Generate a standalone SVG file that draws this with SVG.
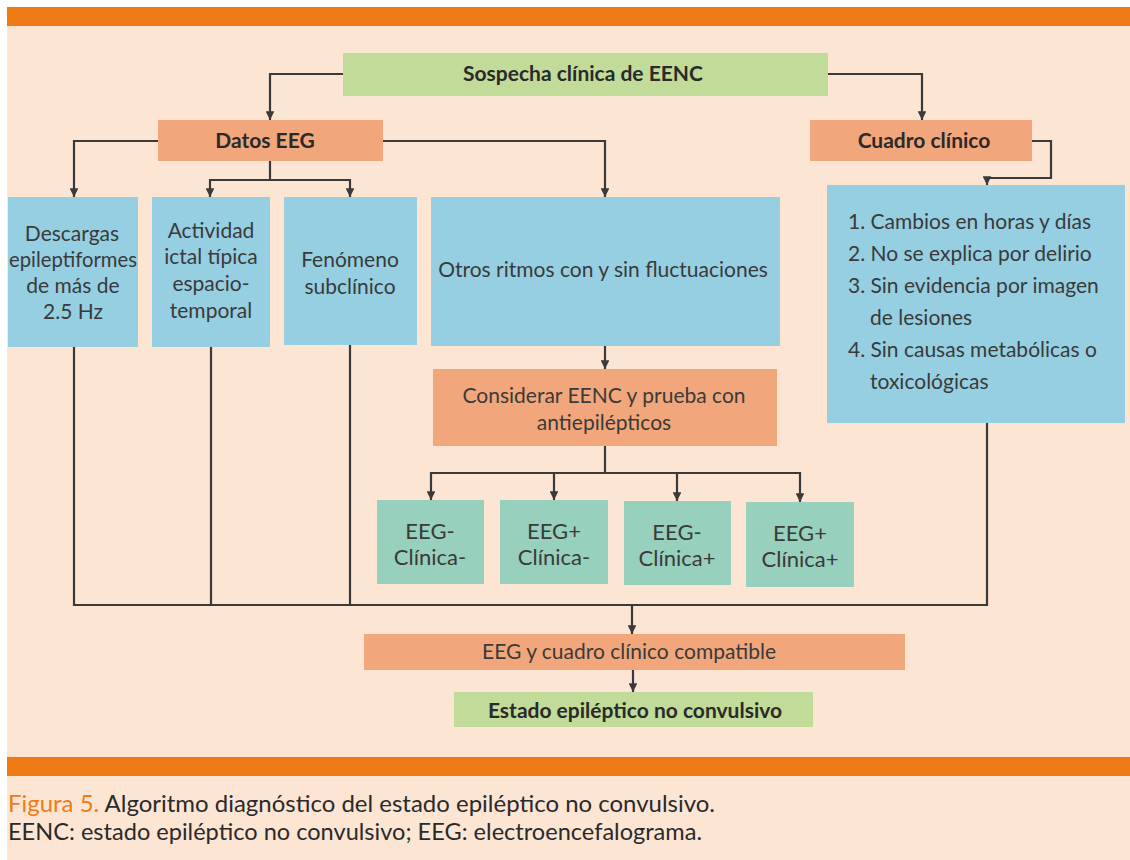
<svg xmlns="http://www.w3.org/2000/svg" width="1130" height="860" viewBox="0 0 1130 860">
<defs>
<style>
.t{font-family:Lato,"Open Sans","Liberation Sans",sans-serif;font-size:21px;fill:#3a3a3a;text-anchor:middle}
.b{font-weight:bold;fill:#2a2a2a}
.l{text-anchor:start}
.k{font-size:22px}
.g{fill:#C1DB98}
.s{fill:#F2A67B}
.u{fill:#96CFE2}
.e{fill:#97D0BC}
.c{fill:none;stroke:#3a3a3a;stroke-width:2.2}
.cap{font-family:Lato,"Open Sans","Liberation Sans",sans-serif;font-size:23px;fill:#2a2a2a}
</style>
<marker id="a" viewBox="0 0 10 10" refX="10" refY="5" markerWidth="4" markerHeight="4" orient="auto-start-reverse" markerUnits="strokeWidth">
<path d="M0,0 L10,5 L0,10 z" fill="#3a3a3a"/>
</marker>
</defs>
<rect x="0" y="0" width="1130" height="860" fill="#ffffff"/>
<rect x="7" y="7" width="1123" height="853" fill="#FDE5D4"/>
<rect x="7" y="7" width="1123" height="19" fill="#EF7B17"/>
<rect x="7" y="757" width="1123" height="19" fill="#EF7B17"/>

<g id="connectors">
<polyline class="c" points="343,74 270,74 270,120" marker-end="url(#a)"/>
<polyline class="c" points="828,74 922,74 922,120" marker-end="url(#a)"/>
<polyline class="c" points="158,141 74,141 74,197" marker-end="url(#a)"/>
<polyline class="c" points="383,141 605,141 605,197" marker-end="url(#a)"/>
<polyline class="c" points="270,161 270,180"/>
<polyline class="c" points="270,180 210,180 210,197" marker-end="url(#a)"/>
<polyline class="c" points="270,180 350,180 350,197" marker-end="url(#a)"/>
<polyline class="c" points="1032,141 1051,141 1051,178 987,178 987,185" marker-end="url(#a)"/>
<line class="c" x1="605" y1="346" x2="605" y2="369" marker-end="url(#a)"/>
<polyline class="c" points="605,446 605,473"/>
<polyline class="c" points="605,473 431,473 431,500" marker-end="url(#a)"/>
<polyline class="c" points="605,473 554,473 554,500" marker-end="url(#a)"/>
<polyline class="c" points="605,473 677,473 677,501" marker-end="url(#a)"/>
<polyline class="c" points="605,473 800,473 800,502" marker-end="url(#a)"/>
<polyline class="c" points="74,347 74,605 987,605 987,423"/>
<line class="c" x1="211" y1="347" x2="211" y2="605"/>
<line class="c" x1="350" y1="345" x2="350" y2="605"/>
<line class="c" x1="632" y1="605" x2="632" y2="634" marker-end="url(#a)"/>
<line class="c" x1="633" y1="670" x2="633" y2="692" stroke-width="1.4" marker-end="url(#a)"/>
</g>

<g id="sospecha">
<rect class="g" x="343" y="53" width="485" height="43"/>
<text class="t b" x="583" y="81">Sospecha clínica de EENC</text>
</g>
<g id="datos">
<rect class="s" x="158" y="120" width="225" height="41"/>
<text class="t b" x="265" y="148">Datos EEG</text>
</g>
<g id="cuadro">
<rect class="s" x="810" y="120" width="222" height="41"/>
<text class="t b" x="924" y="148">Cuadro clínico</text>
</g>
<g id="descargas">
<rect class="u" x="8" y="197" width="130" height="150"/>
<text class="t" x="72" y="241">Descargas</text>
<text class="t" x="73" y="267" textLength="128" lengthAdjust="spacingAndGlyphs">epileptiformes</text>
<text class="t" x="73" y="293">de más de</text>
<text class="t" x="73" y="319">2.5 Hz</text>
</g>
<g id="actividad">
<rect class="u" x="152" y="197" width="118" height="150"/>
<text class="t" x="211" y="238">Actividad</text>
<text class="t" x="211" y="264">ictal típica</text>
<text class="t" x="211" y="291">espacio-</text>
<text class="t" x="211" y="318">temporal</text>
</g>
<g id="fenomeno">
<rect class="u" x="284" y="197" width="133" height="148"/>
<text class="t" x="350" y="267">Fenómeno</text>
<text class="t" x="350" y="294">subclínico</text>
</g>
<g id="otros">
<rect class="u" x="431" y="197" width="349" height="149"/>
<text class="t" x="603" y="277">Otros ritmos con y sin fluctuaciones</text>
</g>
<g id="lista">
<rect class="u" x="827" y="185" width="298" height="238"/>
<text class="t l" x="848" y="229">1. Cambios en horas y días</text>
<text class="t l" x="848" y="261">2. No se explica por delirio</text>
<text class="t l" x="848" y="293">3. Sin evidencia por imagen</text>
<text class="t l" x="870" y="325">de lesiones</text>
<text class="t l" x="848" y="357">4. Sin causas metabólicas o</text>
<text class="t l" x="870" y="389">toxicológicas</text>
</g>
<g id="considerar">
<rect class="s" x="433" y="369" width="344" height="77"/>
<text class="t" x="604" y="403">Considerar EENC y prueba con</text>
<text class="t" x="604" y="430">antiepilépticos</text>
</g>
<g id="r1">
<rect class="e" x="377" y="500" width="107" height="84"/>
<text class="t k" x="430" y="539">EEG-</text>
<text class="t k" x="430" y="565">Clínica-</text>
</g>
<g id="r2">
<rect class="e" x="500" y="500" width="108" height="84"/>
<text class="t k" x="554" y="539">EEG+</text>
<text class="t k" x="554" y="565">Clínica-</text>
</g>
<g id="r3">
<rect class="e" x="624" y="501" width="107" height="84"/>
<text class="t k" x="677" y="540">EEG-</text>
<text class="t k" x="677" y="566">Clínica+</text>
</g>
<g id="r4">
<rect class="e" x="746" y="502" width="108" height="85"/>
<text class="t k" x="800" y="541">EEG+</text>
<text class="t k" x="800" y="567">Clínica+</text>
</g>
<g id="compatible">
<rect class="s" x="364" y="634" width="541" height="36"/>
<text class="t" x="629" y="659">EEG y cuadro clínico compatible</text>
</g>
<g id="estado">
<rect class="g" x="454" y="692" width="359" height="35"/>
<text class="t b" x="635" y="718">Estado epiléptico no convulsivo</text>
</g>
<g id="caption">
<text class="cap" x="8" y="812" textLength="707" lengthAdjust="spacingAndGlyphs"><tspan fill="#EF7B17">Figura 5.</tspan> Algoritmo diagnóstico del estado epiléptico no convulsivo.</text>
<text class="cap" x="8" y="840" textLength="694" lengthAdjust="spacingAndGlyphs">EENC: estado epiléptico no convulsivo; EEG: electroencefalograma.</text>
</g>
</svg>
